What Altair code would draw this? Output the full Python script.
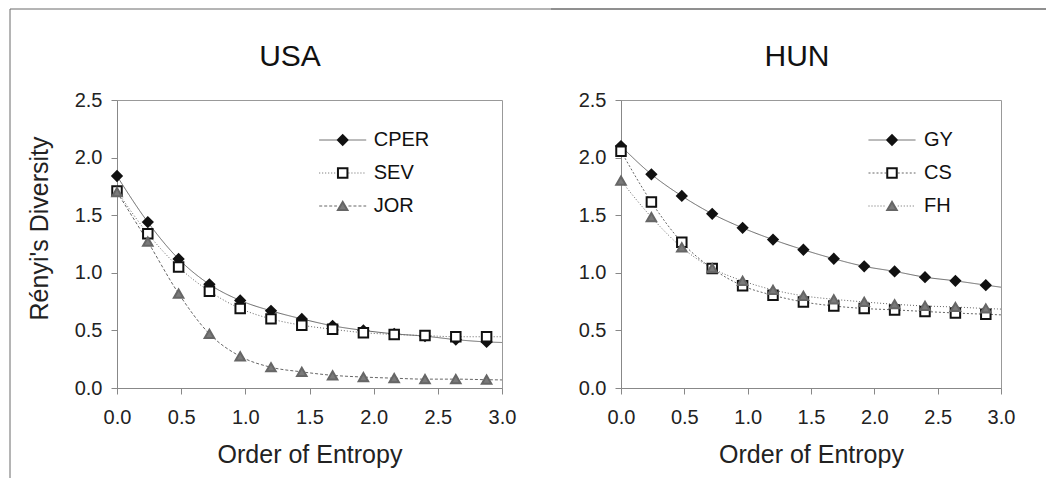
import altair as alt
import pandas as pd

# ---------------- data ----------------
orders = [0.0, 0.24, 0.48, 0.72, 0.96, 1.20, 1.44, 1.68, 1.92, 2.16, 2.40, 2.64, 2.88]
line_end_order = 3.0

usa_series = ["CPER", "SEV", "JOR"]
usa_cper = [1.84, 1.44, 1.12, 0.90, 0.76, 0.67, 0.60, 0.54, 0.50, 0.47, 0.45, 0.42, 0.40]
usa_sev = [1.71, 1.34, 1.05, 0.84, 0.69, 0.60, 0.545, 0.51, 0.48, 0.465, 0.455, 0.445, 0.445]
usa_jor = [1.70, 1.27, 0.82, 0.47, 0.275, 0.18, 0.14, 0.11, 0.095, 0.085, 0.077, 0.077, 0.072]
usa_line_ends = [0.395, 0.445, 0.07]

hun_series = ["GY", "CS", "FH"]
hun_gy = [2.10, 1.855, 1.667, 1.512, 1.39, 1.288, 1.20, 1.122, 1.056, 1.012, 0.962, 0.93, 0.893]
hun_cs = [2.056, 1.614, 1.265, 1.038, 0.887, 0.805, 0.747, 0.712, 0.69, 0.678, 0.664, 0.651, 0.64]
hun_fh = [1.80, 1.483, 1.22, 1.04, 0.93, 0.852, 0.80, 0.77, 0.747, 0.727, 0.712, 0.703, 0.69]
hun_line_ends = [0.875, 0.635, 0.685]

x_ticks = [0.0, 0.5, 1.0, 1.5, 2.0, 2.5, 3.0]
y_ticks = [0.0, 0.5, 1.0, 1.5, 2.0, 2.5]

FONT = "Liberation Sans"
LINE_COLOR = "#666666"
FRAME_COLOR = "#6a6a6a"
shape_range = ["diamond", "square", "triangle-up"]
fill_range = ["#111111", "#ffffff", "#7a7a7a"]
stroke_range = ["#111111", "#111111", "#666666"]


def tables(series, values, ends):
    pts = []
    for s, vals in zip(series, values):
        for o, v in zip(orders, vals):
            pts.append({"order": o, "value": v, "series": s})
    pts = pd.DataFrame(pts)
    lines = pts.rename(columns={"series": "line"})
    extra = pd.DataFrame({"order": [line_end_order] * len(series), "value": ends, "line": series})
    lines = pd.concat([lines, extra], ignore_index=True)
    return pts, lines


def panel(title, series, values, ends, dashes, width, ytitle, legend_x, label_offset,
          title_dx, frame_layers):
    pts, lines = tables(series, values, ends)
    xs = alt.Scale(domain=[0, 3], nice=False, zero=False)
    ys = alt.Scale(domain=[0, 2.5], nice=False)
    xaxis = alt.Axis(values=x_ticks, format=".1f", title="Order of Entropy", labelFlush=False,
                     labelOverlap=False, tickSize=6, labelPadding=13, titlePadding=15)
    if ytitle:
        yaxis = alt.Axis(values=y_ticks, format=".1f", title=ytitle, tickSize=6, labelPadding=9,
                         titlePadding=22, titleY=128, labelOverlap=False)
    else:
        yaxis = alt.Axis(values=y_ticks, format=".1f", title=None, tickSize=6, labelPadding=9,
                         labelOverlap=False)
    line_legend = alt.Legend(title=None, orient="none", legendX=legend_x, legendY=30,
                             symbolType="M-4.7,0H-1.15M1.15,0H4.7", symbolSize=100,
                             symbolStrokeColor=LINE_COLOR, symbolStrokeWidth=1,
                             labelFontSize=20, labelFont=FONT, labelColor="#111111",
                             labelOffset=label_offset, rowPadding=13, padding=0)
    point_legend = alt.Legend(title=None, orient="none", legendX=legend_x, legendY=30,
                              symbolSize=90, symbolStrokeWidth=2, labelFontSize=20,
                              labelFont=FONT, labelOpacity=0, labelOffset=label_offset,
                              rowPadding=13, padding=0)
    line_layer = alt.Chart(lines).mark_line(color=LINE_COLOR, strokeWidth=1, interpolate="monotone").encode(
        x=alt.X("order:Q", scale=xs, axis=xaxis),
        y=alt.Y("value:Q", scale=ys, axis=yaxis),
        strokeDash=alt.StrokeDash("line:N", sort=series, scale=alt.Scale(range=dashes), legend=line_legend),
    )
    point_layer = alt.Chart(pts).mark_point(size=90, strokeWidth=2, opacity=1, filled=False).encode(
        x=alt.X("order:Q", scale=xs, axis=xaxis),
        y=alt.Y("value:Q", scale=ys, axis=yaxis),
        shape=alt.Shape("series:N", scale=alt.Scale(domain=series, range=shape_range), legend=point_legend),
        fill=alt.Fill("series:N", scale=alt.Scale(domain=series, range=fill_range), legend=point_legend),
        stroke=alt.Stroke("series:N", scale=alt.Scale(domain=series, range=stroke_range), legend=point_legend),
    )
    return alt.layer(*frame_layers, line_layer, point_layer).properties(
        width=width, height=288,
        title=alt.TitleParams(title, fontSize=30, font=FONT, fontWeight="normal", anchor="middle",
                              frame="group", dx=title_dx, dy=87.5, baseline="alphabetic",
                              offset=0, color="#111111"),
    )


blank = alt.Data(values=[{"k": 0}])
usa_frame = [
    alt.Chart(blank).mark_rule(color=FRAME_COLOR, strokeWidth=1).encode(
        x=alt.value(-107), y=alt.value(-91), y2=alt.value(378)),
    alt.Chart(blank).mark_rule(color=FRAME_COLOR, strokeWidth=1).encode(
        x=alt.value(-107), x2=alt.value(929), y=alt.value(-91)),
]
hun_frame = [
    alt.Chart(blank).mark_rule(color=FRAME_COLOR, strokeWidth=1).encode(
        x=alt.value(-70), x2=alt.value(425), y=alt.value(-91)),
]

usa = panel("USA", usa_series, [usa_cper, usa_sev, usa_jor], usa_line_ends,
            [[1, 0], [1, 2], [3, 2]], 385, "Rényi's Diversity", 215.7, 21, -19.5, usa_frame)
hun = panel("HUN", hun_series, [hun_gy, hun_cs, hun_fh], hun_line_ends,
            [[1, 0], [2, 2], [1, 2]], 380, None, 261, 22, -14, hun_frame)

chart = alt.hconcat(usa, hun, spacing=119, bounds="flush").resolve_scale(
    x="independent", y="independent", shape="independent", fill="independent",
    stroke="independent", strokeDash="independent",
).resolve_legend(
    shape="independent", fill="independent", stroke="independent", strokeDash="independent",
).properties(
    padding={"left": 9, "top": 8, "right": 0, "bottom": 0},
    autosize=alt.AutoSizeParams(type="pad"),
    background="#ffffff",
).configure_view(
    stroke="#999999", strokeWidth=1,
).configure_axis(
    labelFont=FONT, titleFont=FONT, labelFontSize=20, titleFontSize=25,
    labelColor="#222222", titleColor="#222222", titleFontWeight="normal",
    domainColor="#888888", tickColor="#888888", grid=False,
)

chart.save("out.html", embed_options={"renderer": "svg", "actions": False})
